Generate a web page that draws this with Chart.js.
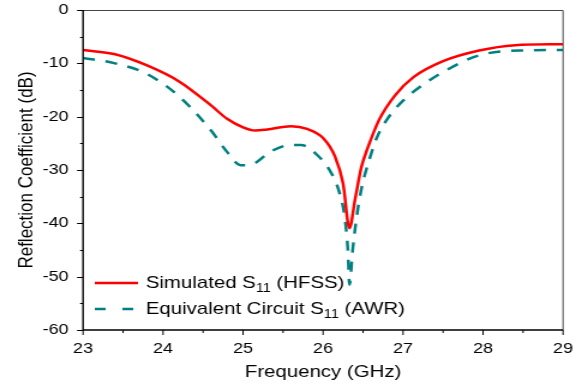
<!doctype html>
<html lang="en">
<head>
<meta charset="UTF-8" />
<title>Reflection Coefficient</title>
<script src="https://cdn.jsdelivr.net/npm/chart.js"></script>
<style>
  html, body { margin: 0; padding: 0; background: #fff; }
  /* the source figure is stretched sideways, so the canvas is too */
  #s11Chart { display: block; width: 582px !important; height: 387px !important; }
</style>
</head>
<body>
<canvas id="s11Chart" width="485" height="387"></canvas>
<script>
// Simulated S11 (HFSS)
const freqHfss = [23.0, 23.4, 23.8, 24.2, 24.6, 24.8, 25.0, 25.15, 25.3, 25.6, 25.8, 26.0, 26.15, 26.25, 26.33, 26.4, 26.48, 26.55, 26.7, 26.9, 27.13, 27.5, 27.95, 28.4, 29.0];
const s11Hfss = [-7.5, -8.3, -10.4, -13.4, -17.9, -20.4, -22.0, -22.6, -22.4, -21.8, -22.3, -24.0, -27.5, -32.5, -40.9, -35.5, -29.4, -26.2, -20.6, -16.0, -12.6, -9.6, -7.6, -6.6, -6.4];

// Equivalent circuit S11 (AWR)
const freqAwr = [23.0, 23.4, 23.8, 24.2, 24.6, 24.8, 24.97, 25.1, 25.35, 25.6, 25.72, 25.92, 26.1, 26.2, 26.27, 26.31, 26.33, 26.37, 26.42, 26.48, 26.59, 26.67, 26.8, 27.0, 27.25, 27.55, 27.95, 28.45, 29.0];
const s11Awr = [-9.0, -10.0, -12.0, -16.2, -22.6, -26.6, -29.1, -29.0, -26.5, -25.3, -25.3, -27.1, -30.5, -34.0, -38.8, -45.0, -51.5, -45.0, -38.8, -33.5, -27.5, -24.0, -20.5, -17.0, -14.0, -11.2, -8.5, -7.6, -7.5];

const xTicks = [23, 24, 25, 26, 27, 28, 29];
const yTicks = [0, -10, -20, -30, -40, -50, -60];

const FONT = "'Liberation Sans', Arial, sans-serif";
const RED = "#ff0000";
const TEAL = "#008080";

function toPoints(xs, ys) {
    return xs.map((x, i) => ({ x, y: ys[i] }));
}

// box, outward ticks (major + minor) and a legend with subscripts
const framePlugin = {
    id: "frame",
    afterDraw(chart) {
        const { ctx, chartArea: a, scales } = chart;
        const xs = scales.x, ys = scales.y;
        ctx.save();
        ctx.setLineDash([]);
        ctx.globalAlpha = 1;
        ctx.strokeStyle = "#444";
        ctx.lineWidth = 1;
        ctx.beginPath();
        ctx.moveTo(a.left, a.top + 0.5);
        ctx.lineTo(a.right, a.top + 0.5);
        ctx.lineTo(a.right, a.bottom);
        ctx.stroke();

        ctx.strokeStyle = "#000";
        ctx.lineWidth = 1.4;
        ctx.beginPath();
        ctx.moveTo(a.left, a.top);
        ctx.lineTo(a.left, a.bottom);
        ctx.lineTo(a.right, a.bottom);
        ctx.stroke();

        ctx.lineWidth = 1;
        ctx.beginPath();
        for (let v = 23; v <= 29.001; v += 0.5) {
            const px = xs.getPixelForValue(v);
            const len = Number.isInteger(v) ? 5 : 3;
            ctx.moveTo(px, a.bottom);
            ctx.lineTo(px, a.bottom + len);
        }
        for (let v = -60; v <= 0.001; v += 5) {
            const py = Math.round(ys.getPixelForValue(v)) + 0.5;
            const len = v % 10 === 0 ? 5 : 2.5;
            ctx.moveTo(a.left, py);
            ctx.lineTo(a.left - len, py);
        }
        ctx.stroke();

        // legend
        const items = [
            { color: RED, dash: [], label: "Simulated S", sub: "11", rest: " (HFSS)", y: 283 },
            { color: TEAL, dash: [9, 14], label: "Equivalent Circuit S", sub: "11", rest: " (AWR)", y: 309 }
        ];
        items.forEach(it => {
            ctx.strokeStyle = it.color;
            ctx.lineWidth = 2.5;
            ctx.setLineDash(it.dash);
            ctx.beginPath();
            ctx.moveTo(79, it.y);
            ctx.lineTo(115, it.y);
            ctx.stroke();
            ctx.setLineDash([]);

            ctx.fillStyle = "#000";
            ctx.textBaseline = "middle";
            ctx.textAlign = "left";
            let x = 121.5;
            ctx.font = "17px " + FONT;
            ctx.fillText(it.label, x, it.y);
            x += ctx.measureText(it.label).width;
            ctx.font = "12px " + FONT;
            ctx.fillText(it.sub, x, it.y + 6);
            x += ctx.measureText(it.sub).width;
            ctx.font = "17px " + FONT;
            ctx.fillText(it.rest, x, it.y);
        });
        ctx.restore();
    }
};

new Chart(document.getElementById("s11Chart"), {
    type: "line",
    data: {
        datasets: [
            {
                label: "Simulated S11 (HFSS)",
                data: toPoints(freqHfss, s11Hfss),
                borderColor: RED,
                borderWidth: 2.5,
                pointRadius: 0,
                cubicInterpolationMode: "monotone",
                fill: false
            },
            {
                label: "Equivalent Circuit S11 (AWR)",
                data: toPoints(freqAwr, s11Awr),
                borderColor: TEAL,
                borderWidth: 2.5,
                borderDash: [10, 9],
                pointRadius: 0,
                cubicInterpolationMode: "monotone",
                fill: false
            }
        ]
    },
    options: {
        responsive: false,
        devicePixelRatio: 1,
        animation: false,
        layout: { padding: { top: 10, right: 15.8, left: 0, bottom: 0 } },
        plugins: { legend: { display: false }, tooltip: { enabled: false } },
        scales: {
            x: {
                type: "linear",
                min: 23,
                max: 29,
                afterBuildTicks: s => { s.ticks = xTicks.map(v => ({ value: v })); },
                grid: { display: false },
                border: { display: false },
                ticks: { color: "#000", font: { family: FONT, size: 15 }, padding: 2, maxRotation: 0 },
                title: { display: true, text: "Frequency (GHz)", color: "#000", font: { family: FONT, size: 17 }, padding: { top: 0 } },
                afterFit: s => { s.height = 57; s.paddingLeft = 0; s.paddingRight = 0; }
            },
            y: {
                type: "linear",
                min: -60,
                max: 0,
                afterBuildTicks: s => { s.ticks = yTicks.map(v => ({ value: v })); },
                grid: { display: false },
                border: { display: false },
                ticks: { color: "#000", font: { family: FONT, size: 15 }, padding: 4 },
                title: { display: true, text: "Reflection Coefficient (dB)", color: "#000", font: { family: FONT, size: 17 }, padding: { top: 12.5 } },
                afterFit: s => { s.width = 69.2; s.paddingTop = 0; s.paddingBottom = 0; }
            }
        }
    },
    plugins: [framePlugin]
});
</script>
</body>
</html>
